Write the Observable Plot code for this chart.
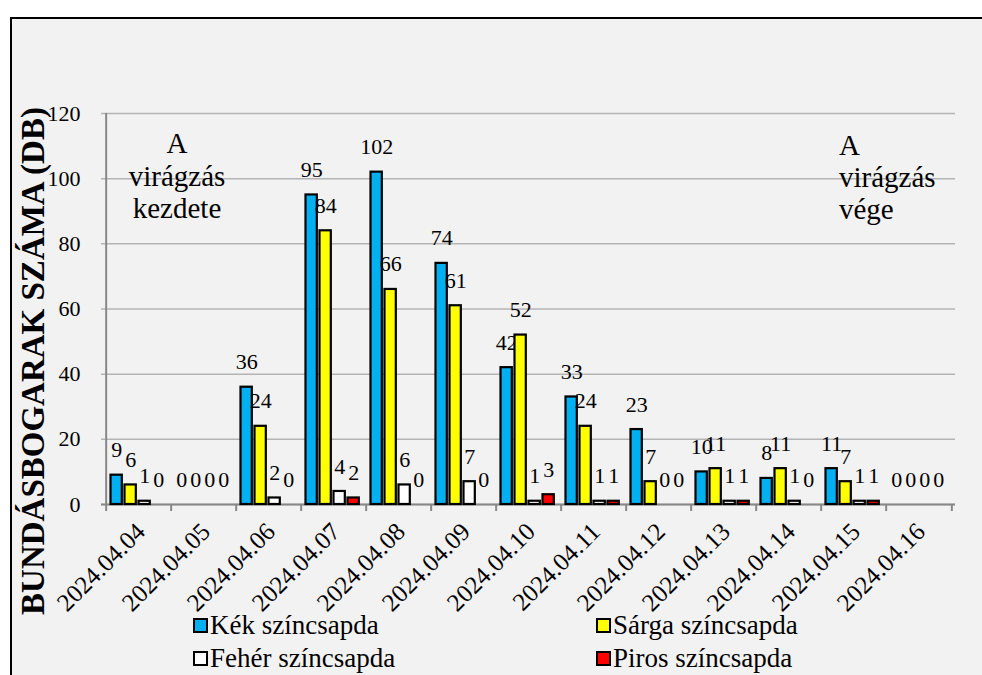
<!DOCTYPE html>
<html>
<head>
<meta charset="utf-8">
<script src="https://cdn.jsdelivr.net/npm/d3@7"></script>
<script src="https://cdn.jsdelivr.net/npm/@observablehq/plot@0.6"></script>
<style>
  html, body { margin: 0; padding: 0; background: #ffffff; }
  #wrap { position: relative; width: 982px; height: 675px; overflow: hidden; font-family: "Liberation Serif", "Tinos", "DejaVu Serif", "Times New Roman", serif; }
  #frame { position: absolute; left: 10px; top: 17px; width: 990px; height: 700px; background: #f2f2f2; border: 2px solid #000; box-sizing: border-box; }
  #chart { position: absolute; left: 0; top: 0; }
  #chart svg text { font-family: "Liberation Serif", "Tinos", "DejaVu Serif", "Times New Roman", serif; }
  .leg { position: absolute; font-size: 27px; color: #000; line-height: 1; white-space: nowrap; }
  .sw { display: inline-block; width: 11px; height: 11px; border: 2px solid #000; vertical-align: middle; margin-right: 2px; position: relative; top: -2px; box-sizing: content-box; }
</style>
</head>
<body>
<div id="wrap">
  <div id="frame"></div>
  <div id="chart"></div>
</div>
<script>
const dates = ["2024.04.04","2024.04.05","2024.04.06","2024.04.07","2024.04.08","2024.04.09","2024.04.10","2024.04.11","2024.04.12","2024.04.13","2024.04.14","2024.04.15","2024.04.16"];
const kek   = [9, 0, 36, 95, 102, 74, 42, 33, 23, 10, 8, 11, 0];
const sarga = [6, 0, 24, 84, 66, 61, 52, 24, 7, 11, 11, 7, 0];
const feher = [1, 0, 2, 4, 6, 7, 1, 1, 0, 1, 1, 1, 0];
const piros = [0, 0, 0, 2, 0, 0, 3, 1, 0, 1, 0, 1, 0];
const seriesNames = ["Kék színcsapda", "Sárga színcsapda", "Fehér színcsapda", "Piros színcsapda"];
const seriesColors = ["#00b0f0", "#ffff00", "#ffffff", "#ff0000"];
const yTicks = [0, 20, 40, 60, 80, 100, 120];
const yTitle = "BUNDÁSBOGARAK SZÁMA (DB)";
const noteStart = "A\nvirágzás\nkezdete";
const noteEnd = "A\nvirágzás\nvége";

const seriesValues = [kek, sarga, feher, piros];
const rows = [];
seriesValues.forEach((vals, si) => vals.forEach((v, i) => rows.push({date: dates[i], series: seriesNames[si], si, value: v})));

const W = 982, H = 675;
const mL = 101, mR = 27, mT = 113, mB = 171;
const bw = (W - mL - mR) / dates.length;
const barW = 12, step = 14, off0 = 4.5;
const font = '"Liberation Serif", "Tinos", "DejaVu Serif", serif';

const marks = [
  Plot.gridY(yTicks, {stroke: "#b4b4b4", strokeOpacity: 1, strokeWidth: 1.5}),
  Plot.ruleY([0], {stroke: "#888", strokeWidth: 2}),
  Plot.ruleX([dates[0]], {dx: -bw/2, stroke: "#888", strokeWidth: 2}),
  Plot.ruleX(dates, {x: d => d, dx: -bw/2, stroke: "#888", strokeWidth: 2, insetTop: H - mT - mB, insetBottom: -7}),
  Plot.ruleX([dates[dates.length - 1]], {x: d => d, dx: bw/2, stroke: "#888", strokeWidth: 2, insetTop: H - mT - mB, insetBottom: -7}),
];
seriesNames.forEach((name, si) => {
  const data = rows.filter(r => r.si === si);
  const left = off0 + step * si;
  marks.push(Plot.barY(data.filter(d => d.value > 0), {
    x: "date", y: "value", fill: seriesColors[si], stroke: "#000", strokeWidth: 2.2,
    insetLeft: left, insetRight: bw - left - barW
  }));
  marks.push(Plot.text(data, {
    x: "date", y: "value", text: d => String(d.value),
    dx: -bw/2 + left + barW/2, dy: -25, fontSize: 22, fill: "#000"
  }));
});
marks.push(
  Plot.axisY({ticks: yTicks, tickSize: 0, tickPadding: 21, fontSize: 22, label: null}),
  Plot.axisX({tickSize: 0, tickRotate: -45, tickPadding: 23, dx: 2, fontSize: 25, label: null}),
  Plot.text([yTitle], {frameAnchor: "left", textAnchor: "middle", rotate: -90, dx: -68, dy: 52, fontSize: 33, fontWeight: "bold", fill: "#000"}),
  Plot.text([noteStart], {x: () => dates[1], frameAnchor: "top", lineAnchor: "top", dx: -27, dy: 16, fontSize: 29, lineHeight: 1.13, fill: "#000"}),
  Plot.text([noteEnd], {x: () => dates[11], frameAnchor: "top", lineAnchor: "top", textAnchor: "start", dx: -15, dy: 19, fontSize: 29, lineHeight: 1.1, fill: "#000"})
);

const chart = Plot.plot({
  width: W, height: H,
  marginLeft: mL, marginRight: mR, marginTop: mT, marginBottom: mB,
  style: {background: "transparent", fontFamily: font, color: "#000"},
  x: {type: "band", domain: dates, padding: 0},
  y: {domain: [0, 120]},
  marks
});
document.getElementById("chart").appendChild(chart);

const legPos = [[193, 612], [596, 612], [193, 645], [596, 645]];
seriesNames.forEach((name, si) => {
  const d = document.createElement("div");
  d.className = "leg";
  d.style.left = legPos[si][0] + "px";
  d.style.top = legPos[si][1] + "px";
  const sw = document.createElement("span");
  sw.className = "sw";
  sw.style.background = seriesColors[si];
  d.appendChild(sw);
  d.appendChild(document.createTextNode(name));
  document.getElementById("wrap").appendChild(d);
});
</script>
</body>
</html>
